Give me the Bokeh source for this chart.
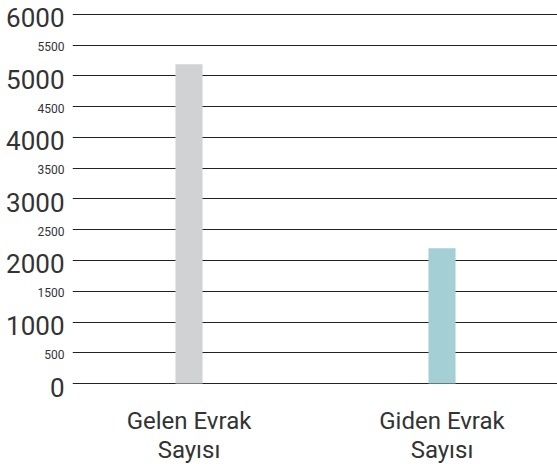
from bokeh.plotting import figure
from bokeh.layouts import row
from bokeh.models import Range1d, FixedTicker
from bokeh.core.properties import value
from bokeh.embed import file_html
from bokeh.resources import INLINE

# ---- data ----
categories = ["Gelen Evrak\nSayısı", "Giden Evrak\nSayısı"]
values = [5190, 2200]
bar_colors = ["#d1d2d4", "#a3cfd5"]
major_ticks = [0, 1000, 2000, 3000, 4000, 5000, 6000]
minor_ticks = [500, 1500, 2500, 3500, 4500, 5500]

TEXT = "#333333"
FONT = "Roboto"

x_pos = [i + 0.5 for i in range(len(categories))]
y_range = Range1d(-32.52, 6227.64)

# ---- main chart ----
p = figure(frame_width=485, frame_height=385, output_backend="svg", toolbar_location=None,
           x_range=Range1d(0.0395, 1.9565), y_range=y_range,
           min_border_left=0, min_border_right=0, min_border_top=0, min_border_bottom=0)
p.outline_line_color = None

p.vbar(x=x_pos, top=values, width=0.107, color=bar_colors, line_color=None)

p.yaxis.visible = False
p.xgrid.visible = False
p.ygrid.ticker = FixedTicker(ticks=sorted(major_ticks + minor_ticks))
p.ygrid.grid_line_color = "#222222"
p.ygrid.grid_line_width = 1

ax = p.xaxis[0]
ax.ticker = FixedTicker(ticks=x_pos)
ax.major_label_overrides = {x: c for x, c in zip(x_pos, categories)}
ax.axis_line_color = None
ax.major_tick_line_color = None
ax.minor_tick_line_color = None
ax.major_tick_out = 0
ax.major_tick_in = 0
ax.major_label_standoff = 21
ax.major_label_text_font = FONT
ax.major_label_text_font_size = "24px"
ax.major_label_text_line_height = 1.05
ax.major_label_text_color = TEXT

# ---- y tick labels panel (same vertical scale) ----
lab = figure(frame_width=72, frame_height=385, output_backend="svg", toolbar_location=None,
             x_range=Range1d(0, 1), y_range=y_range,
             min_border_left=0, min_border_right=0, min_border_top=0, min_border_bottom=40)
lab.outline_line_color = None
lab.axis.visible = False
lab.grid.visible = False

r1 = lab.text(x=[1] * len(major_ticks), y=major_ticks, text=[str(v) for v in major_ticks],
              x_offset=-8, y_offset=3.5, text_align="right", text_baseline="middle",
              text_font=value(FONT), text_font_size=value("26px"), text_color=TEXT,
              level="overlay")
r2 = lab.text(x=[1] * len(minor_ticks), y=minor_ticks, text=[str(v) for v in minor_ticks],
              x_offset=-8, y_offset=1.5, text_align="right", text_baseline="middle",
              text_font=value(FONT), text_font_size=value("12px"), text_color=TEXT,
              level="overlay")

layout = row(lab, p, spacing=0)
open("out.html", "w").write(file_html(layout, INLINE))
